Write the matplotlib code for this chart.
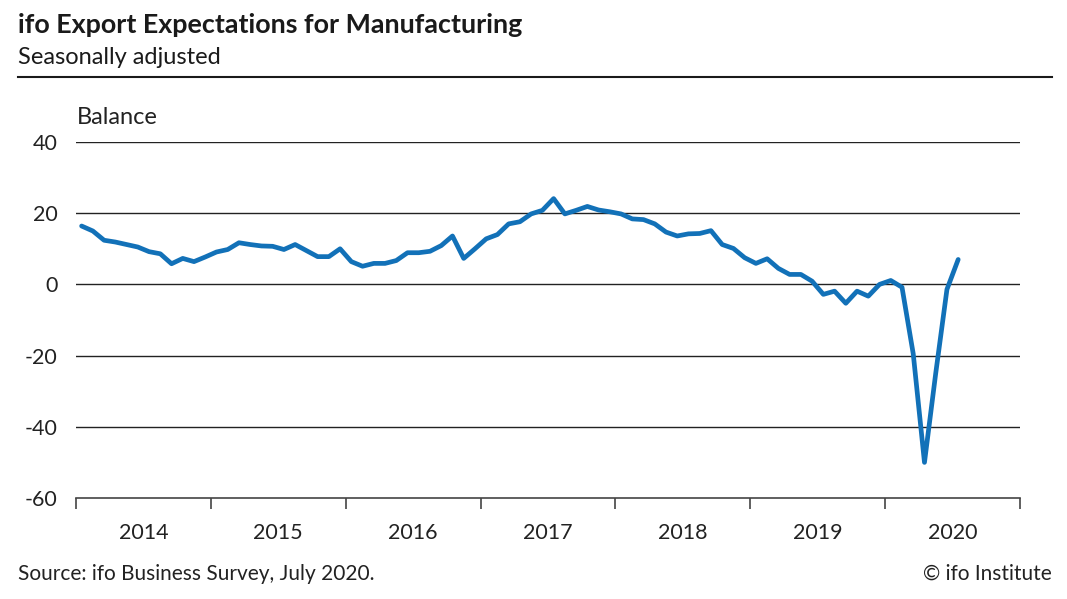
import numpy as np
from matplotlib import pyplot as plt

plt.rcParams["font.family"] = ["Lato", "DejaVu Sans"]

# monthly balance, Jan 2014 .. Jul 2020
years = [2014, 2015, 2016, 2017, 2018, 2019, 2020]
balance = [
    16.4, 15.0, 12.4, 11.9, 11.2, 10.5, 9.2, 8.6, 5.8, 7.3, 6.4, 7.7,  # 2014
    9.1, 9.8, 11.7, 11.2, 10.8, 10.7, 9.8, 11.2, 9.5, 7.8, 7.8, 10.0,  # 2015
    6.4, 5.1, 5.9, 5.9, 6.7, 8.9, 8.9, 9.3, 10.9, 13.6, 7.3, 10.0,  # 2016
    12.8, 14.0, 17.0, 17.6, 19.8, 20.8, 24.1, 19.8, 20.8, 21.9, 20.9, 20.4,  # 2017
    19.8, 18.4, 18.2, 17.0, 14.7, 13.6, 14.2, 14.3, 15.1, 11.2, 10.1, 7.5,  # 2018
    5.9, 7.2, 4.5, 2.8, 2.8, 0.9, -2.8, -1.9, -5.3, -1.9, -3.3, 0.0,  # 2019
    1.1, -0.8, -19.5, -50.0, -25.0, -1.4, 7.0,  # 2020
]
yticks = [40, 20, 0, -20, -40, -60]

x = np.arange(len(balance)) + 0.5

fig = plt.figure(figsize=(10.67, 5.99), dpi=100)
ax = fig.add_axes([76 / 1067, 1 - 498 / 599, (1020 - 76) / 1067, (498 - 142) / 599])

for yv in yticks:
    if yv != -60:
        ax.axhline(yv, color="#222222", linewidth=1.0, zorder=1)

ax.plot(x, balance, color="#1271B8", linewidth=3.4, solid_capstyle="round",
        solid_joinstyle="round", zorder=3)

ax.set_xlim(0, 12 * len(years))
ax.set_ylim(-60, 40)
ax.set_yticks(yticks)
ax.set_yticklabels([str(v) for v in yticks], fontsize=15.5, color="#222222")
ax.tick_params(axis="y", length=0, pad=13.5)

ax.set_xticks(np.arange(0, 12 * len(years) + 1, 12))
ax.set_xticklabels([])
ax.set_xticks(np.arange(6, 12 * len(years), 12), minor=True)
ax.set_xticklabels([str(y) for y in years], minor=True, fontsize=15.5, color="#222222")
ax.tick_params(axis="x", which="major", direction="out", length=8, width=1.2, color="#444444")
ax.tick_params(axis="x", which="minor", length=0, pad=18)

for s in ["top", "right", "left"]:
    ax.spines[s].set_visible(False)
ax.spines["bottom"].set_color("#444444")
ax.spines["bottom"].set_linewidth(1.2)

fig.text(18 / 1067, 1 - 25 / 599, "ifo Export Expectations for Manufacturing",
         fontsize=19.4, fontweight="bold", color="#1a1a1a", va="center")
fig.text(18 / 1067, 1 - 57 / 599, "Seasonally adjusted", fontsize=17,
         color="#1a1a1a", va="center")
fig.add_artist(plt.Line2D([18 / 1067, 1052 / 1067], [1 - 77 / 599, 1 - 77 / 599],
                          color="#1a1a1a", linewidth=1.5))
fig.text(77 / 1067, 1 - 118 / 599, "Balance", fontsize=17, color="#222222", va="center")
fig.text(18 / 1067, 1 - 574 / 599, "Source: ifo Business Survey, July 2020.",
         fontsize=15, color="#222222", va="center")
fig.text(1052 / 1067, 1 - 574 / 599, "© ifo Institute", fontsize=15,
         color="#222222", va="center", ha="right")

plt.savefig("out.png", dpi=100)
plt.close()
